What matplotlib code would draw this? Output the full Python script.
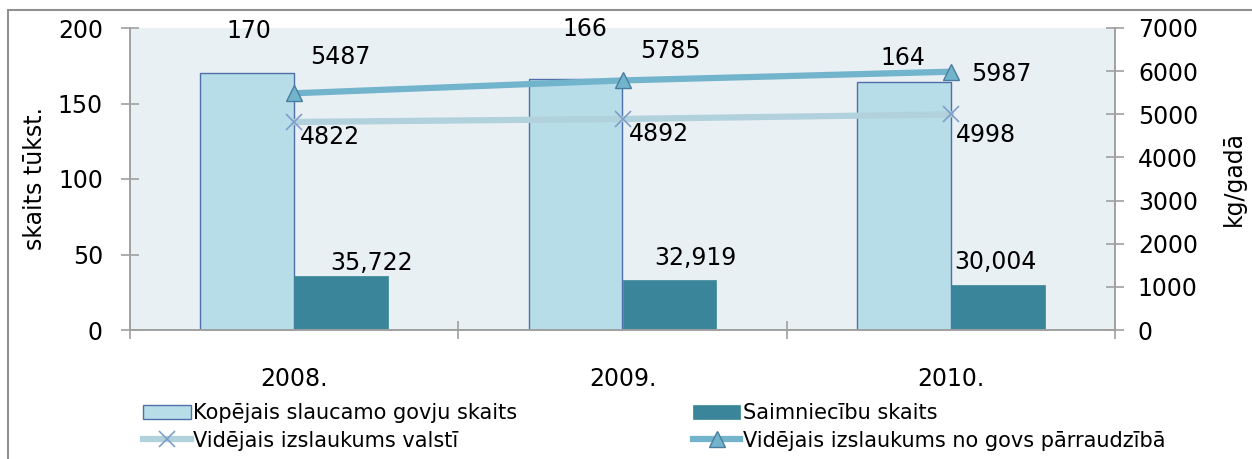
import matplotlib

matplotlib.use("Agg")
import matplotlib.pyplot as plt
import numpy as np
from matplotlib.patches import Rectangle

# --- dati ---
gadi = ["2008.", "2009.", "2010."]
govis_tukst = [170, 166, 164]               # Kopējais slaucamo govju skaits
saimniecibas = [35.722, 32.919, 30.004]     # Saimniecību skaits
izsl_valsti = [4822, 4892, 4998]            # Vidējais izslaukums valstī
izsl_parraudz = [5487, 5785, 5987]          # Vidējais izslaukums no govs pārraudzībā

saimn_teksti = ["35,722", "32,919", "30,004"]

# label offsets (pixels) - Excel manually moved labels
off_govis = [(2, 42), (9, 50), (-1, 24)]
off_saimn = [(30, 13), (26, 22), (-2, 23)]
off_parr = [(46, 36), (48, 29), (50, -2)]
off_vals = [(36, -15), (36, -15), (35, -21)]

C_LIGHT = "#b7dde8"
C_LIGHT_EDGE = "#4f6fa8"
C_DARK = "#3a8599"
C_BG = "#e9f0f4"
C_LINE1 = "#b1d1dd"
C_LINE2 = "#72b4cc"
C_AX = "#a0a0a0"

plt.rcParams["font.family"] = ["DejaVu Sans"]

fig = plt.figure(figsize=(12.52, 4.59), dpi=100)
ax = fig.add_axes([130 / 1252, 1 - 330 / 459, 985 / 1252, 302 / 459])
ax2 = ax.twinx()

x = np.arange(len(gadi))
w = 0.286

ax.set_facecolor(C_BG)
b1 = ax.bar(x - w / 2, govis_tukst, w, color=C_LIGHT, edgecolor=C_LIGHT_EDGE,
            linewidth=1.0, label="Kopējais slaucamo govju skaits", zorder=2)
b2 = ax.bar(x + w / 2, saimniecibas, w, color=C_DARK, edgecolor=C_DARK,
            linewidth=0.5, label="Saimniecību skaits", zorder=2)

l1, = ax2.plot(x, izsl_valsti, color=C_LINE1, lw=4.5, marker="x", ms=12,
               mew=1.2, mec="#7f9fc8", label="Vidējais izslaukums valstī",
               zorder=3)
l2, = ax2.plot(x, izsl_parraudz, color=C_LINE2, lw=4.5, marker="^", ms=12,
               mfc=C_LINE2, mec="#4a7da0", mew=1.0,
               label="Vidējais izslaukums no govs pārraudzībā", zorder=3)

fs = 17
for i in range(len(gadi)):
    ax.annotate(str(govis_tukst[i]), (x[i] - w / 2, govis_tukst[i]),
                xytext=off_govis[i], textcoords="offset pixels",
                ha="center", va="center", fontsize=fs)
    ax.annotate(saimn_teksti[i], (x[i] + w / 2, saimniecibas[i]),
                xytext=off_saimn[i], textcoords="offset pixels",
                ha="center", va="center", fontsize=fs)
    ax2.annotate(str(izsl_parraudz[i]), (x[i], izsl_parraudz[i]),
                 xytext=off_parr[i], textcoords="offset pixels",
                 ha="center", va="center", fontsize=fs)
    ax2.annotate(str(izsl_valsti[i]), (x[i], izsl_valsti[i]),
                 xytext=off_vals[i], textcoords="offset pixels",
                 ha="center", va="center", fontsize=fs)

ax.set_xlim(-0.5, len(gadi) - 0.5)
ax.set_ylim(0, 200)
ax.set_yticks(range(0, 201, 50))
ax2.set_ylim(0, 7000)
ax2.set_yticks(range(0, 7001, 1000))

ax.set_xticks(x)
ax.set_xticklabels(gadi, fontsize=fs)
ax.set_xticks(np.arange(-0.5, len(gadi), 1), minor=True)
ax.tick_params(axis="x", which="major", length=0, pad=27)
ax.tick_params(axis="x", which="minor", direction="inout", length=13,
               color=C_AX, width=1.2)
ax.tick_params(axis="y", direction="inout", length=13, color=C_AX, width=1.2,
               labelsize=fs, pad=13)
ax2.tick_params(axis="y", direction="inout", length=13, color=C_AX, width=1.2,
                labelsize=fs, pad=10)

for a in (ax, ax2):
    a.spines["top"].set_visible(False)
    for s in ("left", "right", "bottom"):
        a.spines[s].set_color(C_AX)
        a.spines[s].set_linewidth(1.2)

ax.set_ylabel("skaits tūkst.", fontsize=fs, labelpad=8)
ax2.set_ylabel("kg/gadā", fontsize=fs, labelpad=17)

# column-major order for a 2x2 legend
handles = [b1, l1, b2, l2]
labels = [h.get_label() for h in handles]
fig.legend(handles, labels, ncol=2, loc="center left",
           bbox_to_anchor=(133 / 1252, 1 - 427 / 459), frameon=False,
           fontsize=15, handlelength=2.3, handletextpad=0.1,
           columnspacing=8.4, labelspacing=0.35, borderpad=0)

# outer chart frame
fig.patches.append(Rectangle((8 / 1252, -0.1), 1.2, 1.1 - 10 / 459,
                             transform=fig.transFigure, fill=False,
                             edgecolor="#909090", linewidth=1.5))

fig.savefig("out.png", dpi=100)
